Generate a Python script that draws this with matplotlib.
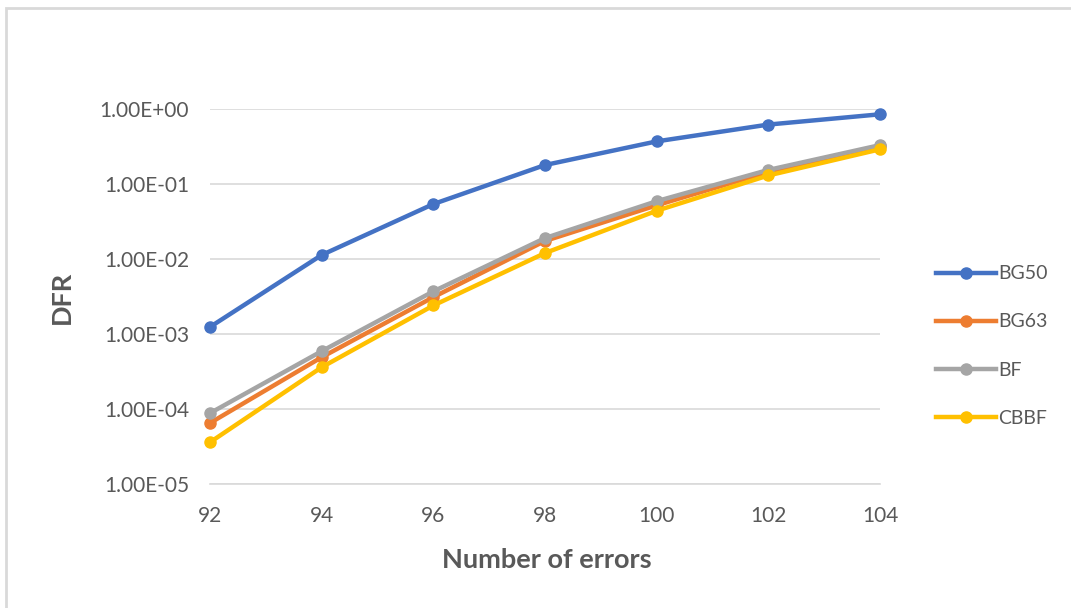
import matplotlib
matplotlib.use("Agg")
import matplotlib.pyplot as plt
from matplotlib.lines import Line2D
from matplotlib.ticker import FixedLocator, FuncFormatter

errors = [92, 94, 96, 98, 100, 102, 104]
bg50 = [1.24e-3, 1.13e-2, 5.4e-2, 1.79e-1, 3.7e-1, 6.2e-1, 8.5e-1]
bg63 = [6.5e-5, 4.9e-4, 3.1e-3, 1.74e-2, 5.2e-2, 1.45e-1, 3.2e-1]
bf = [8.8e-5, 5.9e-4, 3.7e-3, 1.9e-2, 5.9e-2, 1.54e-1, 3.3e-1]
cbbf = [3.6e-5, 3.6e-4, 2.4e-3, 1.2e-2, 4.4e-2, 1.3e-1, 2.9e-1]
y_ticks = [1e-5, 1e-4, 1e-3, 1e-2, 1e-1, 1e0]

series = [
    ("BG50", bg50, "#4472C4"),
    ("BG63", bg63, "#ED7D31"),
    ("BF", bf, "#A5A5A5"),
    ("CBBF", cbbf, "#FFC000"),
]

plt.rcParams["font.family"] = ["Lato", "DejaVu Sans"]
txt = "#595959"

fig = plt.figure(figsize=(10.71, 6.08), dpi=100)
# thin light frame around the chart (left/top visible)
fig.patches.append(plt.Rectangle((6 / 1071, -0.1), 1.2, 1.1 - 8 / 608,
                                 transform=fig.transFigure, fill=False,
                                 edgecolor="#D9D9D9", linewidth=2))

ax = fig.add_axes([210 / 1071, 1 - 484 / 608, 670 / 1071, 375 / 608])

for name, vals, col in series:
    ax.plot(errors, vals, color=col, linewidth=3.2, marker="o",
            markersize=8, label=name, solid_capstyle="round", zorder=3,
            clip_on=False)

ax.set_yscale("log")
ax.set_ylim(1e-5, 1e0)
ax.set_xlim(92, 104)
ax.set_xticks(errors)
ax.yaxis.set_major_locator(FixedLocator(y_ticks))
ax.yaxis.set_minor_locator(FixedLocator([]))
ax.yaxis.set_major_formatter(FuncFormatter(lambda v, p: "{:.2E}".format(v)))

ax.grid(axis="y", color="#D9D9D9", linewidth=1.2, zorder=0)
for s in ["top", "right", "left"]:
    ax.spines[s].set_visible(False)
ax.spines["bottom"].set_color("#D9D9D9")
ax.spines["bottom"].set_linewidth(1.2)
ax.tick_params(axis="both", length=0, labelsize=15, colors=txt)
ax.tick_params(axis="x", pad=16)
ax.tick_params(axis="y", pad=15)

ax.set_xlabel("Number of errors", fontsize=19.5, fontweight="bold", color=txt)
ax.set_ylabel("DFR", fontsize=19.5, fontweight="bold", color=txt)
ax.xaxis.set_label_coords((547 - 210) / 670, (484 - 560) / 375)
ax.xaxis.label.set_va("center")
ax.yaxis.set_label_coords((62 - 210) / 670, (484 - 297) / 375)
ax.yaxis.label.set_va("center")

handles = [Line2D([0], [0], color=c, linewidth=3.2, marker="o", markersize=8)
           for _, _, c in series]
leg = fig.legend(handles, [n for n, _, _ in series], loc="center left",
                 bbox_to_anchor=(936 / 1071, 1 - 346 / 608), frameon=False,
                 fontsize=14, labelspacing=1.6, handlelength=3.1,
                 handletextpad=0.1, borderaxespad=0, borderpad=0)
for t in leg.get_texts():
    t.set_color(txt)

fig.savefig("out.png", dpi=100, facecolor="white")
